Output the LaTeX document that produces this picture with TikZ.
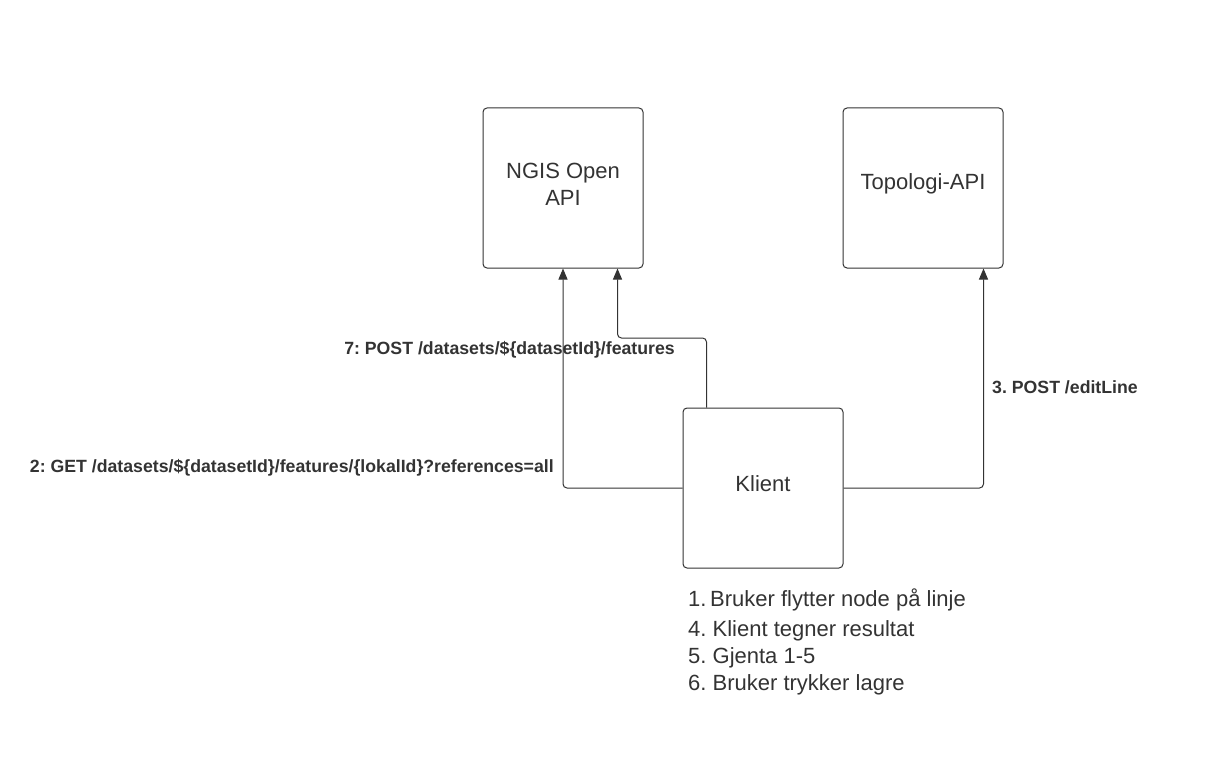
\documentclass[tikz,border=0pt]{standalone}
\usepackage{fontspec}
\setmainfont{Liberation Sans}
\usetikzlibrary{calc,arrows.meta}
\tikzset{>={Stealth[length=11pt,width=9pt,inset=0pt]}}
\definecolor{ink}{HTML}{333333}
\frenchspacing
\tikzset{
  box/.style={draw=ink,line width=1pt,rounded corners=4pt,minimum width=160pt,minimum height=160pt,
    align=center,text=ink,font=\fontsize{22}{27}\selectfont},
  boxtext/.style={text=ink,align=center,inner sep=0pt,font=\fontsize{22}{27}\selectfont},
  link/.style={->,draw=ink,line width=1pt,rounded corners=4pt},
  call/.style={text=ink,font=\fontsize{17.7}{20}\selectfont\bfseries,inner sep=0pt}
}

\begin{document}
\begin{tikzpicture}[x=1pt,y=-1pt]
    \useasboundingbox (0,0) rectangle (1227,757);
    \node[box] (ngis) at (563,188) {};
    \node[box] (topo) at (923,188) {};
    \node[box] (klient) at (763,488) {};
    \node[boxtext] (ngistxt) at (563,184) {NGIS Open\\API};
    \node[boxtext] (topotxt) at (923,184) {Topologi-API};
    \node[boxtext] (klienttxt) at (763,484) {Klient};
    % connectors
    \coordinate (postfrom) at ($(klient.north west)+(24,0)$);
    \coordinate (postto) at ($(ngis.south east)+(-26,0)$);
    \coordinate (editto) at ($(topo.south east)+(-20,0)$);
    \draw[link] (klient.west) -| (ngis.south);
    \draw[link] (postfrom) |- (640,338) -| (postto);
    \draw[link] (klient.east) -| (editto);
    % labels
    \node[call,anchor=east] (getlbl) at (554,468) {2: GET /datasets/\$\{datasetId\}/features/\{lokalId\}?references=all};
    \node[call,anchor=east] (postlbl) at (675,350) {7: POST /datasets/\$\{datasetId\}/features};
    \node[call,anchor=west] (editlbl) at (992,387) {3. POST /editLine};
    \node[anchor=north west,align=left,text=ink,inner sep=0pt,font=\fontsize{22}{27}\selectfont] (steps) at (688,589)
      {1.\,Bruker flytter node på linje\\[3pt] 4. Klient tegner resultat\\ 5. Gjenta 1-5\\ 6. Bruker trykker lagre};
\end{tikzpicture}
\end{document}
